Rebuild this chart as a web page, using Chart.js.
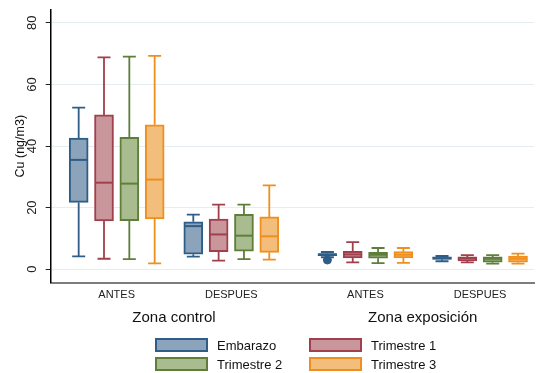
<!DOCTYPE html>
<html>
<head>
<meta charset="utf-8">
<script src="https://cdn.jsdelivr.net/npm/chart.js@4.4.1/dist/chart.umd.min.js"></script>
<style>
  html, body { margin: 0; padding: 0; background: #ffffff; }
  #wrap { position: relative; width: 539px; height: 373px; }
  #legend { position: absolute; left: 0; top: 0; width: 539px; height: 373px; pointer-events: none;
            font-family: "Liberation Sans", Arial, sans-serif; font-size: 13px; color: #111; }
  .item { position: absolute; display: flex; align-items: center; height: 14px; }
  .swatch { box-sizing: border-box; width: 53px; height: 14px; border: 2px solid; margin-right: 9px; }
</style>
</head>
<body>
<div id="wrap">
  <canvas id="c" width="539" height="373"></canvas>
  <div id="legend"></div>
</div>
<script>
// Categories
const periods = ['ANTES', 'DESPUES'];
const zones = ['Zona control', 'Zona exposición'];
const seriesNames = ['Embarazo', 'Trimestre 1', 'Trimestre 2', 'Trimestre 3'];

// Box summaries per cell: [lower whisker, Q1, median, Q3, upper whisker]
// cell order: control ANTES, control DESPUES, exposición ANTES, exposición DESPUES
const embarazoStats = [[4.2, 21.7, 35.5, 42.6, 52.5], [4.1, 4.9, 14.0, 15.4, 17.7], [3.9, 4.4, 4.8, 5.1, 5.6], [2.6, 3.2, 3.6, 4.0, 4.3]];
const trimestre1Stats = [[3.4, 15.7, 28.1, 50.1, 68.8], [2.8, 5.7, 11.3, 16.3, 21.0], [2.2, 3.7, 4.8, 5.8, 8.8], [2.2, 2.7, 3.5, 4.0, 4.6]];
const trimestre2Stats = [[3.3, 15.8, 27.8, 42.8, 69.0], [3.3, 5.9, 10.9, 17.8, 21.0], [2.0, 3.6, 4.7, 5.5, 6.9], [1.8, 2.3, 3.4, 4.0, 4.6]];
const trimestre3Stats = [[1.9, 16.3, 29.1, 46.9, 69.3], [3.1, 5.5, 10.7, 17.0, 27.2], [2.1, 3.7, 4.7, 5.7, 6.9], [1.8, 2.3, 3.4, 4.3, 5.1]];
// Outside values: [cell index, value]
const embarazoOutliers = [[2, 3.0]];

// Y ticks
const yTicks = [0, 20, 40, 60, 80];

// Colours
const fillColors = ['#8ba3bb', '#c9969b', '#a9bc8f', '#f3be7b'];
const lineColors = ['#2e5d87', '#a0404c', '#5e7e3a', '#ee8f1e'];

// Layout of the category axis (in axis units)
const ZONE_GAP = 0.17;
const SERIES_STEP = 0.221;
function cellCenter(cell) {
  const z = Math.floor(cell / periods.length), k = cell % periods.length;
  return 1 + z * (periods.length + ZONE_GAP) + k;
}
function boxX(cell, s) { return cellCenter(cell) + (s - (seriesNames.length - 1) / 2) * SERIES_STEP; }
const cellCount = zones.length * periods.length;
const cellCenters = Array.from({ length: cellCount }, (_, i) => cellCenter(i));
const zoneCenters = zones.map((_, z) => (cellCenter(z * periods.length) + cellCenter(z * periods.length + periods.length - 1)) / 2);
const X_MIN = 0.424, X_MAX = 4.641;

const allStats = [embarazoStats, trimestre1Stats, trimestre2Stats, trimestre3Stats];

const boxDatasets = allStats.map((stats, s) => ({
  type: 'bar',
  label: seriesNames[s],
  data: stats.map((st, cell) => ({ x: boxX(cell, s), y: [st[1], st[3]] })),
  stats: stats,
  series: s,
  backgroundColor: fillColors[s],
  borderColor: lineColors[s],
  borderWidth: 2,
  borderSkipped: false,
  grouped: false,
  barThickness: 19,
  order: 2
}));

const outlierDataset = {
  type: 'scatter',
  label: 'outliers',
  data: embarazoOutliers.map(o => ({ x: boxX(o[0], 0), y: o[1] })),
  pointRadius: 4,
  pointBackgroundColor: lineColors[0],
  pointBorderColor: lineColors[0],
  order: 1
};

// Whiskers, caps and median lines for each box
const boxParts = {
  id: 'boxParts',
  beforeDatasetsDraw(chart) {
    const { ctx, scales: { x, y } } = chart;
    ctx.save();
    chart.data.datasets.forEach(ds => {
      if (!ds.stats) return;
      ctx.strokeStyle = lineColors[ds.series];
      ctx.lineWidth = 1.8;
      ds.stats.forEach((st, cell) => {
        const px = x.getPixelForValue(boxX(cell, ds.series));
        const pLo = y.getPixelForValue(st[0]), pQ1 = y.getPixelForValue(st[1]);
        const pQ3 = y.getPixelForValue(st[3]), pHi = y.getPixelForValue(st[4]);
        ctx.beginPath();
        ctx.moveTo(px, pQ1); ctx.lineTo(px, pLo);
        ctx.moveTo(px, pQ3); ctx.lineTo(px, pHi);
        ctx.moveTo(px - 6.5, pLo); ctx.lineTo(px + 6.5, pLo);
        ctx.moveTo(px - 6.5, pHi); ctx.lineTo(px + 6.5, pHi);
        ctx.stroke();
      });
    });
    ctx.restore();
  },
  afterDatasetsDraw(chart) {
    const { ctx, scales: { x, y } } = chart;
    ctx.save();
    chart.data.datasets.forEach(ds => {
      if (!ds.stats) return;
      ctx.strokeStyle = lineColors[ds.series];
      ctx.lineWidth = 2;
      ds.stats.forEach((st, cell) => {
        const px = x.getPixelForValue(boxX(cell, ds.series));
        const pm = y.getPixelForValue(st[2]);
        ctx.beginPath();
        ctx.moveTo(px - 9, pm); ctx.lineTo(px + 9, pm);
        ctx.stroke();
      });
    });
    ctx.restore();
  }
};

const FONT = '"Liberation Sans", Arial, sans-serif';

new Chart(document.getElementById('c'), {
  type: 'bar',
  data: { datasets: [...boxDatasets, outlierDataset] },
  plugins: [boxParts],
  options: {
    responsive: false,
    animation: false,
    events: [],
    layout: { padding: { left: 14, right: 2, top: 8, bottom: 45 } },
    plugins: { legend: { display: false }, tooltip: { enabled: false } },
    scales: {
      x: {
        type: 'linear', position: 'bottom', weight: 0,
        min: X_MIN, max: X_MAX, offset: false,
        afterBuildTicks: sc => { sc.ticks = cellCenters.map(v => ({ value: v })); },
        ticks: {
          autoSkip: false, maxRotation: 0, minRotation: 0, padding: 6,
          font: { family: FONT, size: 11 }, color: '#222',
          callback: (v, i) => periods[i % periods.length]
        },
        grid: { display: false, drawTicks: false },
        border: { display: true, color: '#7d7d7d', width: 2 }
      },
      x2: {
        type: 'linear', axis: 'x', position: 'bottom', weight: 1,
        min: X_MIN, max: X_MAX, offset: false,
        afterBuildTicks: sc => { sc.ticks = zoneCenters.map(v => ({ value: v })); },
        ticks: {
          autoSkip: false, maxRotation: 0, minRotation: 0, padding: 1,
          font: { family: FONT, size: 15 }, color: '#111',
          callback: (v, i) => zones[i]
        },
        grid: { display: false, drawTicks: false },
        border: { display: false }
      },
      y: {
        type: 'linear', min: -4.4, max: 84.3,
        afterBuildTicks: sc => { sc.ticks = yTicks.map(v => ({ value: v })); },
        ticks: {
          minRotation: 90, maxRotation: 90, crossAlign: 'center', padding: 6,
          font: { family: FONT, size: 13, lineHeight: 0.55 }, color: '#222'
        },
        grid: { color: '#e4edf0', lineWidth: 1, tickColor: '#222', tickLength: 5 },
        border: { display: true, color: '#000', width: 1.5 },
        title: {
          display: true, text: 'Cu (ng/m3)', color: '#111',
          font: { family: FONT, size: 12.5, lineHeight: 1 }, padding: { top: 0, bottom: 0 }
        }
      }
    }
  }
});

// Legend in two columns below the plot
const legendEl = document.getElementById('legend');
const legendCols = [155, 309], legendRows = [338, 357];
seriesNames.forEach((name, s) => {
  const item = document.createElement('div');
  item.className = 'item';
  item.style.left = legendCols[s % 2] + 'px';
  item.style.top = legendRows[Math.floor(s / 2)] + 'px';
  const sw = document.createElement('span');
  sw.className = 'swatch';
  sw.style.background = fillColors[s];
  sw.style.borderColor = lineColors[s];
  const tx = document.createElement('span');
  tx.textContent = name;
  item.appendChild(sw);
  item.appendChild(tx);
  legendEl.appendChild(item);
});
</script>
</body>
</html>
